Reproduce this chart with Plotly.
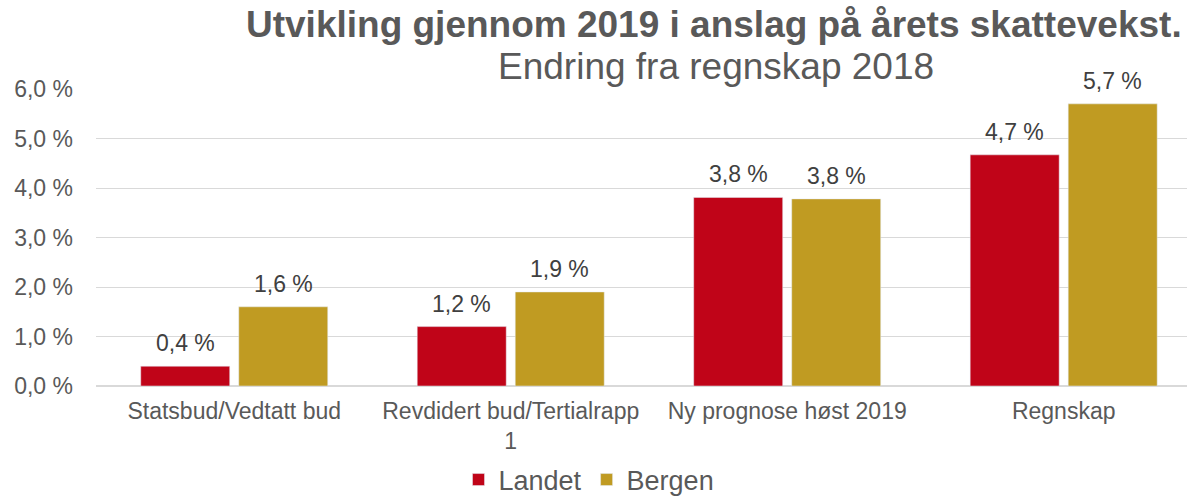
import plotly.graph_objects as go

categories = ["Statsbud/Vedtatt bud", "Revdidert bud/Tertialrapp<br>1", "Ny prognose høst 2019", "Regnskap"]
landet = [0.4, 1.2, 3.81, 4.67]
bergen = [1.6, 1.9, 3.78, 5.7]
y_ticks = [0, 1, 2, 3, 4, 5, 6]
y_ticktext = ["0,0 %", "1,0 %", "2,0 %", "3,0 %", "4,0 %", "5,0 %", "6,0 %"]

def fmt(v):
    return f"{v:.1f}".replace(".", ",") + " %"

FONT = "Liberation Sans, Arial, sans-serif"
GRAY = "#595959"
LABEL = "#404040"

fig = go.Figure()
fig.add_trace(go.Bar(name="Landet", x=categories, y=landet, marker_color="#C00418"))
fig.add_trace(go.Bar(name="Bergen", x=categories, y=bergen, marker_color="#C09B22"))

annotations = [
    dict(text="<b>Utvikling gjennom 2019 i anslag på årets skattevekst.</b>", xref="paper", yref="paper",
         x=(714 - 96) / 1091, y=(386 - 2) / 297, xanchor="center", yanchor="top", showarrow=False,
         font=dict(size=37, color=GRAY, family=FONT)),
    dict(text="Endring fra regnskap 2018", xref="paper", yref="paper",
         x=(716 - 96) / 1091, y=(386 - 44) / 297, xanchor="center", yanchor="top", showarrow=False,
         font=dict(size=37, color=GRAY, family=FONT)),
]
for vals, shift in ((landet, -49), (bergen, 49)):
    for c, v in zip(categories, vals):
        annotations.append(dict(text=fmt(v), x=c, y=v, xref="x", yref="y", xshift=shift, yshift=8,
                                xanchor="center", yanchor="bottom", showarrow=False,
                                font=dict(size=23, color=LABEL, family=FONT)))

fig.update_layout(
    width=1187, height=497,
    margin=dict(l=96, r=0, t=89, b=111),
    paper_bgcolor="white", plot_bgcolor="white",
    font=dict(family=FONT, color=GRAY, size=22),
    barmode="group", bargap=0.291, bargroupgap=0.092,
    showlegend=True,
    legend=dict(orientation="h", xref="container", yref="container", x=589 / 1187, xanchor="center",
                y=1 - 480 / 497, yanchor="middle",
                font=dict(size=27, color=GRAY), itemwidth=30, traceorder="normal"),
    xaxis=dict(range=[-0.5, 3.446], showgrid=False, showline=False, ticks="", automargin=False,
               tickfont=dict(size=23, color=GRAY), ticklabelstandoff=9),
    yaxis=dict(range=[0, 6], tickvals=y_ticks, ticktext=y_ticktext, showgrid=True, automargin=False,
               gridcolor="#D9D9D9", gridwidth=1, zeroline=True, zerolinecolor="#D9D9D9",
               showline=False, ticks="", tickfont=dict(size=23, color=GRAY), ticklabelstandoff=22),
    annotations=annotations,
)

fig.write_html("out.html", config={"displayModeBar": False},
               post_script="document.body.style.margin='0';document.body.style.overflow='hidden';")
